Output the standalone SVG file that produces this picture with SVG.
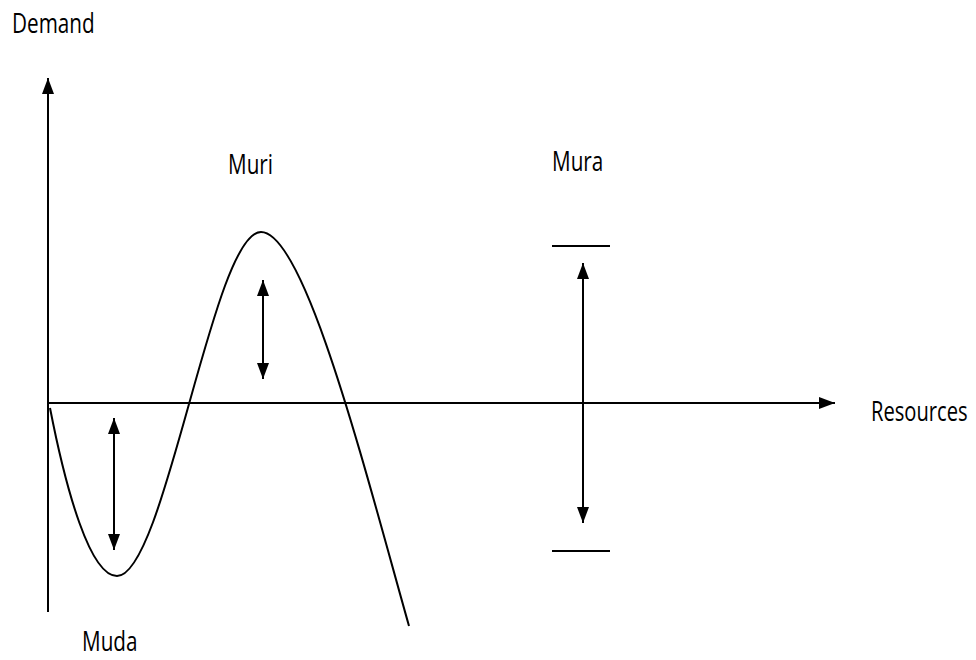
<svg xmlns="http://www.w3.org/2000/svg" width="976" height="660" viewBox="0 0 976 660">
<style>
.ln{stroke:#000;stroke-width:2;fill:none}
.t{font-family:"Open Sans","Liberation Sans",sans-serif;font-size:28px;fill:#000}
</style>
<defs>
<marker id="ah" viewBox="0 0 16 12" refX="16" refY="6" markerWidth="16" markerHeight="12" markerUnits="userSpaceOnUse" orient="auto-start-reverse">
<path d="M0,0 L16,6 L0,12 z" fill="#000"/>
</marker>
</defs>
<rect width="976" height="660" fill="#fff"/>
<g id="connectors">
<line id="y-axis" class="ln" x1="48" y1="612" x2="48" y2="78" marker-end="url(#ah)"/>
<line id="x-axis" class="ln" x1="48" y1="403" x2="835" y2="403" marker-end="url(#ah)"/>
<path id="curve" class="ln" d="M50,408 C66,490 90,576 117,576 C165,576 213,232 261,232 C305,232 365,470 409,626"/>
<line class="ln" x1="114" y1="418" x2="114" y2="550" marker-start="url(#ah)" marker-end="url(#ah)"/>
<line class="ln" x1="263" y1="280" x2="263" y2="379" marker-start="url(#ah)" marker-end="url(#ah)"/>
<line class="ln" x1="583" y1="263" x2="583" y2="523" marker-start="url(#ah)" marker-end="url(#ah)"/>
<line class="ln" x1="552" y1="246" x2="610" y2="246"/>
<line class="ln" x1="552" y1="551" x2="610" y2="551"/>
</g>
<g id="demand"><text class="t" transform="translate(12,33) scale(0.74,1)">Demand</text></g>
<g id="muri"><text class="t" transform="translate(228,174) scale(0.74,1)">Muri</text></g>
<g id="mura"><text class="t" transform="translate(552,171) scale(0.74,1)">Mura</text></g>
<g id="resources"><text class="t" transform="translate(871,421) scale(0.72,1)">Resources</text></g>
<g id="muda"><text class="t" transform="translate(82,651) scale(0.74,1)">Muda</text></g>
</svg>
